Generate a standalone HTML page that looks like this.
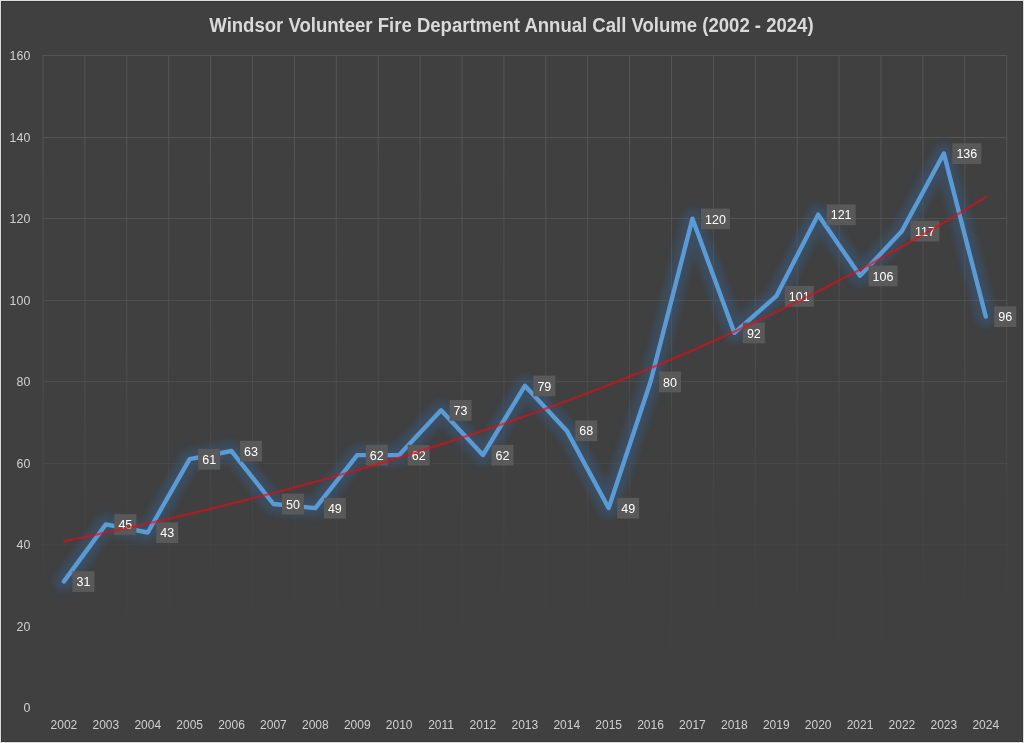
<!DOCTYPE html>
<html><head><meta charset="utf-8"><style>
html,body{margin:0;padding:0;background:#e6e6e6;}
body{width:1024px;height:743px;overflow:hidden;}
svg{display:block;will-change:transform;}
</style></head><body>
<svg width="1024" height="743" viewBox="0 0 1024 743">
<defs>
<linearGradient id="gg" gradientUnits="userSpaceOnUse" x1="0" y1="55.00" x2="0" y2="707.75">
<stop offset="0" stop-color="#555555" stop-opacity="1"/>
<stop offset="0.125" stop-color="#555555" stop-opacity="1"/>
<stop offset="0.25" stop-color="#555555" stop-opacity="0.8"/>
<stop offset="0.375" stop-color="#555555" stop-opacity="0.7"/>
<stop offset="0.5" stop-color="#555555" stop-opacity="0.55"/>
<stop offset="0.625" stop-color="#555555" stop-opacity="0.35"/>
<stop offset="0.75" stop-color="#555555" stop-opacity="0.15"/>
<stop offset="0.875" stop-color="#555555" stop-opacity="0.07"/>
<stop offset="1" stop-color="#555555" stop-opacity="0"/>
</linearGradient>
<filter id="glow" x="-10%" y="-10%" width="120%" height="120%">
<feGaussianBlur stdDeviation="3.5"/>
</filter>
</defs>
<rect x="0" y="0" width="1024" height="743" fill="#dedede"/>
<rect x="1" y="1" width="1022" height="741" fill="#363636"/>
<rect x="2" y="2" width="1020" height="739" fill="#404040"/>
<path d="M43.00 626.50H1006.70 M43.00 544.50H1006.70 M43.00 463.50H1006.70 M43.00 381.50H1006.70 M43.00 300.50H1006.70 M43.00 218.50H1006.70 M43.00 137.50H1006.70 M43.00 55.50H1006.70 M43.00 55.00V707.75 M84.90 55.00V707.75 M126.80 55.00V707.75 M168.70 55.00V707.75 M210.60 55.00V707.75 M252.50 55.00V707.75 M294.40 55.00V707.75 M336.30 55.00V707.75 M378.20 55.00V707.75 M420.10 55.00V707.75 M462.00 55.00V707.75 M503.90 55.00V707.75 M545.80 55.00V707.75 M587.70 55.00V707.75 M629.60 55.00V707.75 M671.50 55.00V707.75 M713.40 55.00V707.75 M755.30 55.00V707.75 M797.20 55.00V707.75 M839.10 55.00V707.75 M881.00 55.00V707.75 M922.90 55.00V707.75 M964.80 55.00V707.75 M1006.70 55.00V707.75" stroke="url(#gg)" stroke-width="1" fill="none"/>
<text x="209.3" y="31.8" textLength="604.3" lengthAdjust="spacingAndGlyphs" font-family="Liberation Sans, sans-serif" font-weight="bold" font-size="19.5" fill="#d9d9d9">Windsor Volunteer Fire Department Annual Call Volume (2002 - 2024)</text>
<text x="30.3" y="712.15" text-anchor="end" font-family="Liberation Sans, sans-serif" font-size="12.4" fill="#d0d0d0">0</text>
<text x="30.3" y="630.65" text-anchor="end" font-family="Liberation Sans, sans-serif" font-size="12.4" fill="#d0d0d0">20</text>
<text x="30.3" y="549.15" text-anchor="end" font-family="Liberation Sans, sans-serif" font-size="12.4" fill="#d0d0d0">40</text>
<text x="30.3" y="467.65" text-anchor="end" font-family="Liberation Sans, sans-serif" font-size="12.4" fill="#d0d0d0">60</text>
<text x="30.3" y="386.15" text-anchor="end" font-family="Liberation Sans, sans-serif" font-size="12.4" fill="#d0d0d0">80</text>
<text x="30.3" y="304.65" text-anchor="end" font-family="Liberation Sans, sans-serif" font-size="12.4" fill="#d0d0d0">100</text>
<text x="30.3" y="223.15" text-anchor="end" font-family="Liberation Sans, sans-serif" font-size="12.4" fill="#d0d0d0">120</text>
<text x="30.3" y="141.65" text-anchor="end" font-family="Liberation Sans, sans-serif" font-size="12.4" fill="#d0d0d0">140</text>
<text x="30.3" y="60.15" text-anchor="end" font-family="Liberation Sans, sans-serif" font-size="12.4" fill="#d0d0d0">160</text>
<text x="63.95" y="729" text-anchor="middle" font-family="Liberation Sans, sans-serif" font-size="12" fill="#d0d0d0">2002</text>
<text x="105.85" y="729" text-anchor="middle" font-family="Liberation Sans, sans-serif" font-size="12" fill="#d0d0d0">2003</text>
<text x="147.75" y="729" text-anchor="middle" font-family="Liberation Sans, sans-serif" font-size="12" fill="#d0d0d0">2004</text>
<text x="189.65" y="729" text-anchor="middle" font-family="Liberation Sans, sans-serif" font-size="12" fill="#d0d0d0">2005</text>
<text x="231.55" y="729" text-anchor="middle" font-family="Liberation Sans, sans-serif" font-size="12" fill="#d0d0d0">2006</text>
<text x="273.45" y="729" text-anchor="middle" font-family="Liberation Sans, sans-serif" font-size="12" fill="#d0d0d0">2007</text>
<text x="315.35" y="729" text-anchor="middle" font-family="Liberation Sans, sans-serif" font-size="12" fill="#d0d0d0">2008</text>
<text x="357.25" y="729" text-anchor="middle" font-family="Liberation Sans, sans-serif" font-size="12" fill="#d0d0d0">2009</text>
<text x="399.15" y="729" text-anchor="middle" font-family="Liberation Sans, sans-serif" font-size="12" fill="#d0d0d0">2010</text>
<text x="441.05" y="729" text-anchor="middle" font-family="Liberation Sans, sans-serif" font-size="12" fill="#d0d0d0">2011</text>
<text x="482.95" y="729" text-anchor="middle" font-family="Liberation Sans, sans-serif" font-size="12" fill="#d0d0d0">2012</text>
<text x="524.85" y="729" text-anchor="middle" font-family="Liberation Sans, sans-serif" font-size="12" fill="#d0d0d0">2013</text>
<text x="566.75" y="729" text-anchor="middle" font-family="Liberation Sans, sans-serif" font-size="12" fill="#d0d0d0">2014</text>
<text x="608.65" y="729" text-anchor="middle" font-family="Liberation Sans, sans-serif" font-size="12" fill="#d0d0d0">2015</text>
<text x="650.55" y="729" text-anchor="middle" font-family="Liberation Sans, sans-serif" font-size="12" fill="#d0d0d0">2016</text>
<text x="692.45" y="729" text-anchor="middle" font-family="Liberation Sans, sans-serif" font-size="12" fill="#d0d0d0">2017</text>
<text x="734.35" y="729" text-anchor="middle" font-family="Liberation Sans, sans-serif" font-size="12" fill="#d0d0d0">2018</text>
<text x="776.25" y="729" text-anchor="middle" font-family="Liberation Sans, sans-serif" font-size="12" fill="#d0d0d0">2019</text>
<text x="818.15" y="729" text-anchor="middle" font-family="Liberation Sans, sans-serif" font-size="12" fill="#d0d0d0">2020</text>
<text x="860.05" y="729" text-anchor="middle" font-family="Liberation Sans, sans-serif" font-size="12" fill="#d0d0d0">2021</text>
<text x="901.95" y="729" text-anchor="middle" font-family="Liberation Sans, sans-serif" font-size="12" fill="#d0d0d0">2022</text>
<text x="943.85" y="729" text-anchor="middle" font-family="Liberation Sans, sans-serif" font-size="12" fill="#d0d0d0">2023</text>
<text x="985.75" y="729" text-anchor="middle" font-family="Liberation Sans, sans-serif" font-size="12" fill="#d0d0d0">2024</text>
<polyline points="63.95,581.42 105.85,524.38 147.75,532.52 189.65,459.17 231.55,451.02 273.45,504.00 315.35,508.07 357.25,455.10 399.15,455.10 441.05,410.27 482.95,455.10 524.85,385.82 566.75,430.65 608.65,508.07 650.55,381.75 692.45,218.75 734.35,332.85 776.25,296.17 818.15,214.67 860.05,275.80 901.95,230.97 943.85,153.55 985.75,316.55" fill="none" stroke="#30679a" stroke-opacity="0.36" stroke-width="19" stroke-linejoin="round" stroke-linecap="round" filter="url(#glow)"/>
<polyline points="63.95,581.42 105.85,524.38 147.75,532.52 189.65,459.17 231.55,451.02 273.45,504.00 315.35,508.07 357.25,455.10 399.15,455.10 441.05,410.27 482.95,455.10 524.85,385.82 566.75,430.65 608.65,508.07 650.55,381.75 692.45,218.75 734.35,332.85 776.25,296.17 818.15,214.67 860.05,275.80 901.95,230.97 943.85,153.55 985.75,316.55" fill="none" stroke="#5b9bd5" stroke-width="4.4" stroke-linejoin="round" stroke-linecap="round"/>
<rect x="72.45" y="571.17" width="22" height="20.75" fill="#595959"/><text x="83.45" y="586.22" text-anchor="middle" font-family="Liberation Sans, sans-serif" font-size="12.5" fill="#ffffff">31</text>
<rect x="114.35" y="514.12" width="22" height="20.75" fill="#595959"/><text x="125.35" y="529.17" text-anchor="middle" font-family="Liberation Sans, sans-serif" font-size="12.5" fill="#ffffff">45</text>
<rect x="156.25" y="522.27" width="22" height="20.75" fill="#595959"/><text x="167.25" y="537.32" text-anchor="middle" font-family="Liberation Sans, sans-serif" font-size="12.5" fill="#ffffff">43</text>
<rect x="198.15" y="448.92" width="22" height="20.75" fill="#595959"/><text x="209.15" y="463.97" text-anchor="middle" font-family="Liberation Sans, sans-serif" font-size="12.5" fill="#ffffff">61</text>
<rect x="240.05" y="440.77" width="22" height="20.75" fill="#595959"/><text x="251.05" y="455.82" text-anchor="middle" font-family="Liberation Sans, sans-serif" font-size="12.5" fill="#ffffff">63</text>
<rect x="281.95" y="493.75" width="22" height="20.75" fill="#595959"/><text x="292.95" y="508.80" text-anchor="middle" font-family="Liberation Sans, sans-serif" font-size="12.5" fill="#ffffff">50</text>
<rect x="323.85" y="497.82" width="22" height="20.75" fill="#595959"/><text x="334.85" y="512.88" text-anchor="middle" font-family="Liberation Sans, sans-serif" font-size="12.5" fill="#ffffff">49</text>
<rect x="365.75" y="444.85" width="22" height="20.75" fill="#595959"/><text x="376.75" y="459.90" text-anchor="middle" font-family="Liberation Sans, sans-serif" font-size="12.5" fill="#ffffff">62</text>
<rect x="407.65" y="444.85" width="22" height="20.75" fill="#595959"/><text x="418.65" y="459.90" text-anchor="middle" font-family="Liberation Sans, sans-serif" font-size="12.5" fill="#ffffff">62</text>
<rect x="449.55" y="400.02" width="22" height="20.75" fill="#595959"/><text x="460.55" y="415.07" text-anchor="middle" font-family="Liberation Sans, sans-serif" font-size="12.5" fill="#ffffff">73</text>
<rect x="491.45" y="444.85" width="22" height="20.75" fill="#595959"/><text x="502.45" y="459.90" text-anchor="middle" font-family="Liberation Sans, sans-serif" font-size="12.5" fill="#ffffff">62</text>
<rect x="533.35" y="375.57" width="22" height="20.75" fill="#595959"/><text x="544.35" y="390.62" text-anchor="middle" font-family="Liberation Sans, sans-serif" font-size="12.5" fill="#ffffff">79</text>
<rect x="575.25" y="420.40" width="22" height="20.75" fill="#595959"/><text x="586.25" y="435.45" text-anchor="middle" font-family="Liberation Sans, sans-serif" font-size="12.5" fill="#ffffff">68</text>
<rect x="617.15" y="497.82" width="22" height="20.75" fill="#595959"/><text x="628.15" y="512.88" text-anchor="middle" font-family="Liberation Sans, sans-serif" font-size="12.5" fill="#ffffff">49</text>
<rect x="659.05" y="371.50" width="22" height="20.75" fill="#595959"/><text x="670.05" y="386.55" text-anchor="middle" font-family="Liberation Sans, sans-serif" font-size="12.5" fill="#ffffff">80</text>
<rect x="700.95" y="208.50" width="29" height="20.75" fill="#595959"/><text x="715.45" y="223.55" text-anchor="middle" font-family="Liberation Sans, sans-serif" font-size="12.5" fill="#ffffff">120</text>
<rect x="742.85" y="322.60" width="22" height="20.75" fill="#595959"/><text x="753.85" y="337.65" text-anchor="middle" font-family="Liberation Sans, sans-serif" font-size="12.5" fill="#ffffff">92</text>
<rect x="784.75" y="285.92" width="29" height="20.75" fill="#595959"/><text x="799.25" y="300.97" text-anchor="middle" font-family="Liberation Sans, sans-serif" font-size="12.5" fill="#ffffff">101</text>
<rect x="826.65" y="204.42" width="29" height="20.75" fill="#595959"/><text x="841.15" y="219.47" text-anchor="middle" font-family="Liberation Sans, sans-serif" font-size="12.5" fill="#ffffff">121</text>
<rect x="868.55" y="265.55" width="29" height="20.75" fill="#595959"/><text x="883.05" y="280.60" text-anchor="middle" font-family="Liberation Sans, sans-serif" font-size="12.5" fill="#ffffff">106</text>
<rect x="910.45" y="220.72" width="29" height="20.75" fill="#595959"/><text x="924.95" y="235.77" text-anchor="middle" font-family="Liberation Sans, sans-serif" font-size="12.5" fill="#ffffff">117</text>
<rect x="952.35" y="143.30" width="29" height="20.75" fill="#595959"/><text x="966.85" y="158.35" text-anchor="middle" font-family="Liberation Sans, sans-serif" font-size="12.5" fill="#ffffff">136</text>
<rect x="994.25" y="306.30" width="22" height="20.75" fill="#595959"/><text x="1005.25" y="321.35" text-anchor="middle" font-family="Liberation Sans, sans-serif" font-size="12.5" fill="#ffffff">96</text>
<polyline points="63.95,541.29 68.14,540.44 72.33,539.59 76.52,538.73 80.71,537.87 84.90,537.00 89.09,536.13 93.28,535.25 97.47,534.37 101.66,533.48 105.85,532.59 110.04,531.70 114.23,530.80 118.42,529.90 122.61,528.99 126.80,528.07 130.99,527.16 135.18,526.23 139.37,525.31 143.56,524.37 147.75,523.44 151.94,522.50 156.13,521.55 160.32,520.60 164.51,519.64 168.70,518.68 172.89,517.72 177.08,516.75 181.27,515.77 185.46,514.79 189.65,513.80 193.84,512.81 198.03,511.82 202.22,510.82 206.41,509.81 210.60,508.80 214.79,507.78 218.98,506.76 223.17,505.73 227.36,504.70 231.55,503.67 235.74,502.62 239.93,501.58 244.12,500.52 248.31,499.46 252.50,498.40 256.69,497.33 260.88,496.26 265.07,495.18 269.26,494.09 273.45,493.00 277.64,491.90 281.83,490.80 286.02,489.69 290.21,488.58 294.40,487.46 298.59,486.33 302.78,485.20 306.97,484.06 311.16,482.92 315.35,481.77 319.54,480.62 323.73,479.46 327.92,478.29 332.11,477.12 336.30,475.94 340.49,474.76 344.68,473.57 348.87,472.37 353.06,471.17 357.25,469.96 361.44,468.75 365.63,467.53 369.82,466.30 374.01,465.07 378.20,463.83 382.39,462.58 386.58,461.33 390.77,460.07 394.96,458.80 399.15,457.53 403.34,456.25 407.53,454.97 411.72,453.68 415.91,452.38 420.10,451.08 424.29,449.76 428.48,448.45 432.67,447.12 436.86,445.79 441.05,444.45 445.24,443.11 449.43,441.76 453.62,440.40 457.81,439.03 462.00,437.66 466.19,436.28 470.38,434.89 474.57,433.50 478.76,432.10 482.95,430.69 487.14,429.28 491.33,427.85 495.52,426.42 499.71,424.99 503.90,423.54 508.09,422.09 512.28,420.63 516.47,419.16 520.66,417.69 524.85,416.21 529.04,414.72 533.23,413.22 537.42,411.72 541.61,410.21 545.80,408.69 549.99,407.16 554.18,405.62 558.37,404.08 562.56,402.53 566.75,400.97 570.94,399.40 575.13,397.83 579.32,396.24 583.51,394.65 587.70,393.05 591.89,391.45 596.08,389.83 600.27,388.21 604.46,386.57 608.65,384.93 612.84,383.29 617.03,381.63 621.22,379.96 625.41,378.29 629.60,376.60 633.79,374.91 637.98,373.21 642.17,371.50 646.36,369.79 650.55,368.06 654.74,366.33 658.93,364.58 663.12,362.83 667.31,361.07 671.50,359.30 675.69,357.52 679.88,355.73 684.07,353.93 688.26,352.12 692.45,350.30 696.64,348.48 700.83,346.64 705.02,344.80 709.21,342.95 713.40,341.08 717.59,339.21 721.78,337.33 725.97,335.43 730.16,333.53 734.35,331.62 738.54,329.70 742.73,327.77 746.92,325.83 751.11,323.88 755.30,321.92 759.49,319.94 763.68,317.96 767.87,315.97 772.06,313.97 776.25,311.96 780.44,309.94 784.63,307.91 788.82,305.86 793.01,303.81 797.20,301.75 801.39,299.67 805.58,297.59 809.77,295.49 813.96,293.39 818.15,291.27 822.34,289.15 826.53,287.01 830.72,284.86 834.91,282.70 839.10,280.53 843.29,278.34 847.48,276.15 851.67,273.95 855.86,271.73 860.05,269.50 864.24,267.26 868.43,265.01 872.62,262.75 876.81,260.48 881.00,258.20 885.19,255.90 889.38,253.59 893.57,251.27 897.76,248.94 901.95,246.60 906.14,244.24 910.33,241.87 914.52,239.49 918.71,237.10 922.90,234.70 927.09,232.28 931.28,229.85 935.47,227.41 939.66,224.96 943.85,222.49 948.04,220.01 952.23,217.52 956.42,215.02 960.61,212.50 964.80,209.97 968.99,207.43 973.18,204.87 977.37,202.30 981.56,199.72 985.75,197.13" fill="none" stroke="#eb0a12" stroke-opacity="0.62" stroke-width="2.3" stroke-linecap="round"/>
</svg></body></html>
